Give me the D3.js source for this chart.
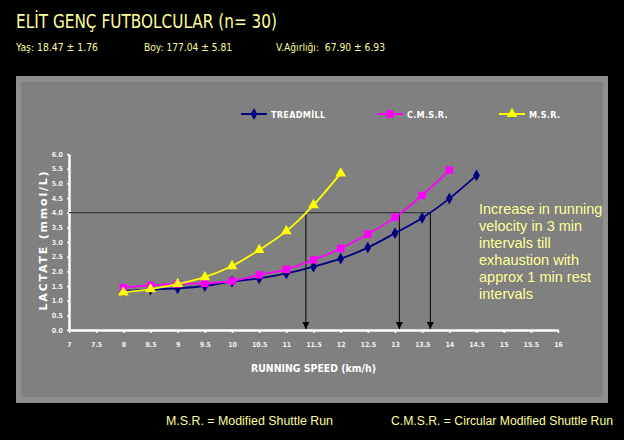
<!DOCTYPE html>
<html>
<head>
<meta charset="utf-8">
<script src="https://cdn.jsdelivr.net/npm/d3@7"></script>
<style>
  body { margin: 0; background: #000; }
  svg { display: block; }
</style>
</head>
<body>
<script>
// data
const speeds = [8, 8.5, 9, 9.5, 10, 10.5, 11, 11.5, 12, 12.5, 13, 13.5, 14, 14.5];
const treadmill = [1.33, 1.38, 1.42, 1.5, 1.65, 1.76, 1.93, 2.16, 2.43, 2.81, 3.3, 3.82, 4.48, 5.27];
const cmsr = [1.45, 1.52, 1.57, 1.59, 1.67, 1.88, 2.07, 2.39, 2.78, 3.27, 3.84, 4.59, 5.45];
const msr = [1.28, 1.39, 1.57, 1.8, 2.18, 2.73, 3.37, 4.26, 5.34];
const threshold = 4.0;
const thresholdSpeeds = [11.36, 13.08, 13.65];
const xTicks = d3.range(7, 16.01, 0.5);
const yTicks = d3.range(0, 6.01, 0.5);
const noteLines = ["Increase in running", "velocity in 3 min", "intervals till", "exhaustion with", "approx 1 min rest", "intervals"];

const width = 624, height = 440;
const yellowText = "#ffff99";

const svg = d3.select("body").append("svg").attr("width", width).attr("height", height);
svg.append("rect").attr("width", width).attr("height", height).attr("fill", "#000");

// header
svg.append("text").attr("x", 16).attr("y", 28)
	.attr("fill", yellowText).attr("font-family", "DejaVu Sans").attr("font-size", 19)
	.attr("textLength", 261).attr("lengthAdjust", "spacingAndGlyphs")
	.text("ELİT GENÇ FUTBOLCULAR (n= 30)");
const stats = [["Yaş: 18.47 ± 1.76", 16, 82], ["Boy: 177.04 ± 5.81", 144, 88], ["V.Ağırlığı:  67.90 ± 6.93", 276, 109]];
stats.forEach(([t, x, w]) => {
	svg.append("text").attr("x", x).attr("y", 51).attr("fill", yellowText)
		.attr("font-family", "DejaVu Sans").attr("font-size", 11)
		.attr("textLength", w).attr("lengthAdjust", "spacingAndGlyphs")
		.attr("xml:space", "preserve").text(t);
});

// panel
svg.append("rect").attr("x", 16).attr("y", 76).attr("width", 592).attr("height", 327).attr("fill", "#8e8e8e");
svg.append("rect").attr("x", 21).attr("y", 82).attr("width", 582).attr("height", 315).attr("fill", "#808080");

const x = d3.scaleLinear().domain([7, 16]).range([69, 558]);
const y = d3.scaleLinear().domain([0, 6]).range([330, 154]);

// axes
const xAxis = svg.append("g").attr("transform", "translate(0,330)")
	.call(d3.axisBottom(x).tickValues(xTicks).tickSize(3).tickSizeOuter(0).tickFormat(d3.format("")));
const yAxis = svg.append("g").attr("transform", "translate(69,0)")
	.call(d3.axisLeft(y).tickValues(yTicks).tickSize(2).tickSizeOuter(0).tickFormat(d3.format(".1f")));
[xAxis, yAxis].forEach((g) => {
	g.select(".domain").attr("stroke", "#fff").attr("stroke-width", 2.5);
	g.selectAll(".tick line").attr("stroke", "#fff").attr("stroke-width", 1.5);
	g.selectAll("text").attr("fill", "#f0f0f0").attr("font-family", "DejaVu Sans Condensed, DejaVu Sans")
		.attr("font-size", 7).attr("font-weight", "bold");
});
xAxis.selectAll("text").attr("dy", "1.6em");
yAxis.selectAll("text").attr("dx", "-1px").attr("dy", "0.32em");

// axis titles
svg.append("text").attr("x", 251).attr("y", 372)
	.attr("fill", "#fff").attr("font-family", "DejaVu Sans Condensed, DejaVu Sans").attr("font-weight", "bold")
	.attr("font-size", 11).attr("textLength", 125).attr("lengthAdjust", "spacingAndGlyphs")
	.text("RUNNING SPEED (km/h)");
svg.append("text").attr("transform", "translate(47,240) rotate(-90)").attr("text-anchor", "middle")
	.attr("fill", "#fff").attr("font-family", "DejaVu Sans").attr("font-weight", "bold")
	.attr("font-size", 11).attr("letter-spacing", 1.8).text("LACTATE (mmol/L)");

// threshold line and arrows
svg.append("defs").append("marker").attr("id", "arrow").attr("viewBox", "0 0 10 10")
	.attr("refX", 10).attr("refY", 5).attr("markerWidth", 7).attr("markerHeight", 7)
	.attr("markerUnits", "userSpaceOnUse").attr("orient", "auto")
	.append("path").attr("d", "M0,0L10,5L0,10z").attr("fill", "#000");
svg.append("line").attr("x1", x(7)).attr("x2", x(d3.max(thresholdSpeeds)))
	.attr("y1", y(threshold)).attr("y2", y(threshold)).attr("stroke", "#3a3a3a").attr("stroke-width", 1.2);
svg.selectAll(".arrow").data(thresholdSpeeds).join("line")
	.attr("x1", (d) => x(d)).attr("x2", (d) => x(d))
	.attr("y1", y(threshold)).attr("y2", y(0) - 1)
	.attr("stroke", "#000").attr("stroke-width", 1).attr("marker-end", "url(#arrow)");

// series
const series = [
	{ name: "TREADMİLL", values: treadmill, color: "#000080", shape: d3.symbolDiamond, size: 40, lx: 241 },
	{ name: "C.M.S.R.", values: cmsr, color: "#ff00ff", shape: d3.symbolSquare, size: 56, lx: 377 },
	{ name: "M.S.R.", values: msr, color: "#ffff00", shape: d3.symbolTriangle, size: 50, lx: 499 }
];
const line = d3.line().x((d) => x(d[0])).y((d) => y(d[1])).curve(d3.curveCatmullRom.alpha(0.5));

series.forEach((s) => {
	const pts = s.values.map((v, i) => [speeds[i], v]);
	svg.append("path").datum(pts).attr("d", line).attr("fill", "none")
		.attr("stroke", s.color).attr("stroke-width", 1.8);
	svg.selectAll(null).data(pts).join("path")
		.attr("d", d3.symbol(s.shape, s.size))
		.attr("transform", (d) => `translate(${x(d[0])},${y(d[1])})`)
		.attr("fill", s.color);
	// legend
	const g = svg.append("g").attr("transform", `translate(${s.lx},114)`);
	g.append("line").attr("x1", 0).attr("x2", 26).attr("stroke", s.color).attr("stroke-width", 2);
	g.append("path").attr("d", d3.symbol(s.shape, s.size)).attr("transform", "translate(13,0)").attr("fill", s.color);
	g.append("text").attr("x", 30).attr("y", 3.5).attr("fill", "#fff")
		.attr("font-family", "DejaVu Sans Condensed, DejaVu Sans").attr("font-weight", "bold")
		.attr("font-size", 9).attr("letter-spacing", 0.3).text(s.name);
});

// note
svg.append("text").attr("fill", yellowText).attr("font-family", "Liberation Sans, Arial").attr("font-size", 14.5)
	.selectAll("tspan").data(noteLines).join("tspan")
	.attr("x", 479).attr("y", (d, i) => 214 + i * 17).text((d) => d);

// footer
svg.append("text").attr("x", 166).attr("y", 425).attr("fill", yellowText)
	.attr("font-family", "Liberation Sans, Arial").attr("font-size", 12.5)
	.attr("textLength", 167).attr("lengthAdjust", "spacingAndGlyphs").text("M.S.R. = Modified Shuttle Run");
svg.append("text").attr("x", 391).attr("y", 425).attr("fill", yellowText)
	.attr("font-family", "Liberation Sans, Arial").attr("font-size", 12.5)
	.attr("textLength", 222).attr("lengthAdjust", "spacingAndGlyphs").text("C.M.S.R. = Circular Modified Shuttle Run");
</script>
</body>
</html>
